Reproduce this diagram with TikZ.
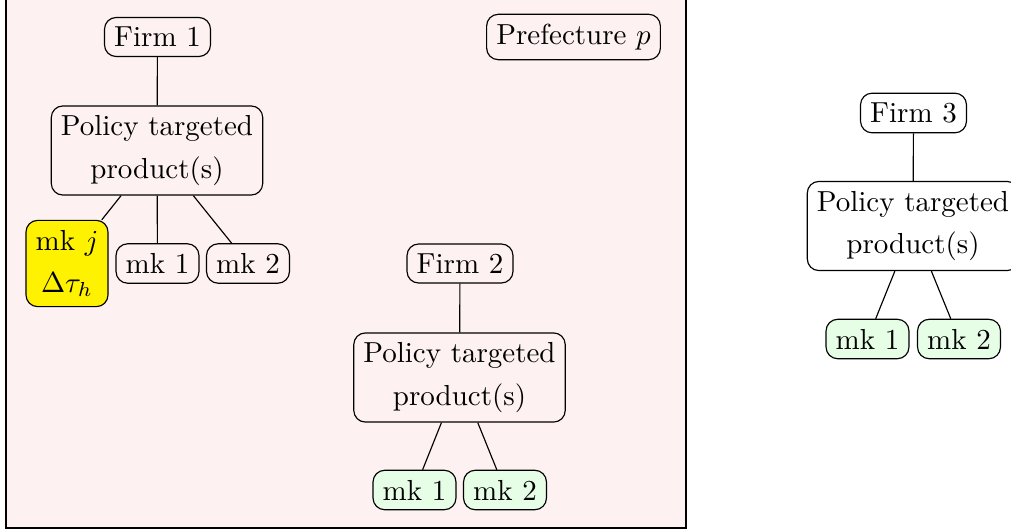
\documentclass[tikz,border=0pt]{standalone}
\usetikzlibrary{positioning}
\definecolor{pinkbg}{RGB}{253,241,241}
\definecolor{mkgreen}{RGB}{230,253,230}
\begin{document}
\begin{tikzpicture}[x=0.345pt,y=-0.345pt,
  box/.style={draw,rounded corners,align=center,inner sep=3.33pt},
  mkg/.style={box,fill=mkgreen},
  mky/.style={box,fill=yellow}]
\useasboundingbox (0,0) rectangle (1011,531);
\draw[fill=pinkbg] (6,-10) rectangle (686,528);
% Prefecture
\node[box] (pref) at (573.5,37) {Prefecture $p$};
% Firm 1
\node[box] (f1) at (157.5,37) {Firm 1};
\node[box] (p1) at (157,150.5) {Policy targeted\\[2.65pt]product(s)};
\node[mky] (m1j) at (67,263.5) {mk $j$\\[2.65pt]$\Delta\tau_h$};
\node[box] (m11) at (157.5,263.5) {mk 1};
\node[box] (m12) at (248,263.5) {mk 2};
\draw (f1) -- (p1);
\draw (p1) -- (m1j);
\draw (p1) -- (m11);
\draw (p1) -- (m12);
% Firm 2
\node[box] (f2) at (460,263.5) {Firm 2};
\node[box] (p2) at (459.5,377.5) {Policy targeted\\[2.65pt]product(s)};
\node[mkg] (m21) at (414.5,490) {mk 1};
\node[mkg] (m22) at (505,490) {mk 2};
\draw (f2) -- (p2);
\draw (p2) -- (m21);
\draw (p2) -- (m22);
% Firm 3
\node[box] (f3) at (913.5,113) {Firm 3};
\node[box] (p3) at (913,226) {Policy targeted\\[2.65pt]product(s)};
\node[mkg] (m31) at (867.5,339) {mk 1};
\node[mkg] (m32) at (959,339) {mk 2};
\draw (f3) -- (p3);
\draw (p3) -- (m31);
\draw (p3) -- (m32);
\end{tikzpicture}
\end{document}
